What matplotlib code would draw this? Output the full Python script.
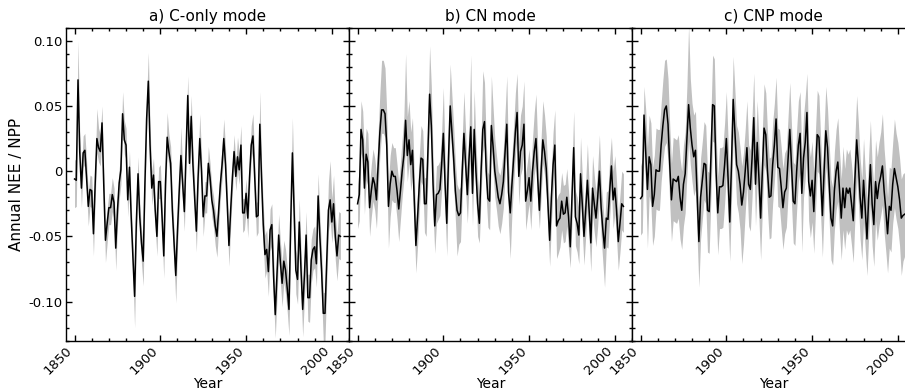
import numpy as np
import matplotlib
matplotlib.use('Agg')
import matplotlib.pyplot as plt
from matplotlib.ticker import MultipleLocator, FuncFormatter

# years of the simulation
years = np.arange(1850, 2006)

# annual NEE / NPP, ensemble mean (x1000)
c_only_mean = [
    -6, -7, 70, 15, -13, 14, 16, -5, -27, -14,
    -15, -48, -10, 25, 18, 15, 37, -10, -53, -40,
    -28, -28, -18, -24, -59, -30, -9, 1, 44, 24,
    20, -22, 3, -35, -65, -96, -40, -2, -35, -55,
    -69, -10, 40, 69, 20, -13, -3, -30, -50, -8,
    -8, -35, -65, -10, 26, 15, 6, -30, -55, -80,
    -45, -15, 12, -10, -31, 15, 58, 6, 42, 5,
    -20, -46, -5, 25, 0, -35, -19, -19, 6, -5,
    -22, -30, -42, -50, -30, -10, 5, 25, 5, -25,
    -57, -30, -5, 15, -4, 11, 1, 20, -32, -32,
    -17, -36, -5, 20, 27, -5, -35, -34, 36, -5,
    -41, -64, -60, -77, -45, -41, -80, -110, -80, -49,
    -70, -86, -69, -76, -90, -106, -40, 14, -30, -76,
    -83, -39, -75, -106, -80, -49, -97, -97, -68, -60,
    -58, -71, -19, -50, -76, -109, -109, -70, -30, -22,
    -39, -25, -50, -65, -49, -50]
# distance of the grey band above / below the mean (x1000)
c_only_up = [
    15, 15, 30, 15, 13, 13, 13, 13, 11, 11,
    11, 11, 13, 23, 15, 13, 13, 11, 11, 11,
    11, 11, 13, 11, 11, 11, 11, 13, 17, 15,
    13, 11, 13, 11, 11, 11, 11, 13, 11, 11,
    11, 13, 15, 22, 15, 13, 13, 11, 11, 11,
    13, 11, 11, 13, 19, 13, 13, 11, 11, 11,
    11, 13, 22, 11, 11, 15, 15, 15, 16, 13,
    11, 11, 11, 19, 13, 11, 11, 11, 13, 11,
    11, 11, 11, 11, 11, 13, 13, 15, 13, 11,
    11, 11, 11, 13, 11, 15, 13, 15, 11, 11,
    11, 11, 13, 15, 17, 13, 11, 11, 25, 13,
    15, 15, 15, 15, 16, 16, 16, 16, 16, 16,
    16, 16, 16, 16, 16, 16, 18, 27, 18, 16,
    16, 18, 16, 16, 16, 18, 18, 18, 16, 16,
    16, 16, 17, 16, 16, 16, 16, 18, 22, 30,
    18, 22, 16, 16, 18, 18]
c_only_down = [
    22, 20, 13, 13, 15, 11, 11, 11, 15, 13,
    13, 17, 13, 11, 11, 11, 11, 13, 17, 15,
    13, 13, 13, 13, 17, 13, 13, 11, 11, 11,
    11, 13, 11, 13, 15, 24, 15, 11, 13, 16,
    19, 13, 11, 11, 11, 13, 11, 13, 15, 13,
    13, 13, 17, 13, 11, 11, 11, 13, 16, 21,
    15, 13, 11, 13, 15, 11, 11, 11, 11, 11,
    13, 16, 13, 11, 11, 15, 13, 13, 11, 11,
    13, 13, 15, 16, 13, 11, 11, 11, 11, 13,
    16, 13, 11, 11, 11, 11, 11, 11, 15, 13,
    13, 15, 11, 11, 11, 11, 15, 13, 11, 13,
    16, 18, 16, 19, 16, 16, 18, 18, 18, 16,
    16, 18, 16, 18, 18, 20, 18, 16, 16, 18,
    19, 16, 18, 21, 18, 16, 18, 19, 18, 16,
    16, 18, 16, 16, 18, 21, 21, 18, 16, 16,
    16, 16, 18, 19, 18, 18]

cn_mean = [
    -25, -18, 32, 24, -13, 13, 7, -28, -15, -5,
    -10, -22, 5, 30, 47, 47, 44, 20, -27, -10,
    0, -4, -4, -15, -29, -15, 0, 12, 39, 12,
    24, 5, 16, -20, -57, -35, -10, 10, 9, -25,
    -25, 15, 59, 35, -10, -42, -18, -17, -14, 5,
    29, -10, -40, 10, 50, 30, 10, -15, -30, -34,
    -32, 0, 29, 5, -18, 10, 34, -17, 32, 0,
    -25, -40, 0, 32, 38, 0, -21, -23, 35, 19,
    0, -10, -20, -25, -18, -8, 15, 36, -16, -32,
    -10, 10, 30, 45, -4, 15, 20, 36, -23, -15,
    -5, -23, 0, 15, 25, -5, -30, 0, 24, 15,
    2, -25, -53, -20, 5, 20, -42, -38, -36, -23,
    -33, -32, -20, -35, -58, -20, 18, -35, -40, -49,
    -2, -25, -50, -30, -7, -30, -55, -13, -25, -36,
    -20, 0, -28, -45, -59, -36, -37, -15, 4, -22,
    -13, -30, -54, -40, -25, -27]
cn_up = [
    15, 20, 22, 22, 25, 20, 22, 18, 20, 22,
    20, 20, 25, 30, 38, 38, 35, 25, 18, 22,
    22, 22, 22, 20, 20, 22, 25, 30, 51, 30,
    30, 25, 25, 20, 18, 20, 22, 25, 22, 20,
    20, 25, 37, 30, 22, 20, 22, 22, 22, 25,
    35, 22, 20, 25, 32, 28, 25, 22, 20, 20,
    20, 25, 32, 25, 20, 25, 55, 22, 30, 22,
    20, 20, 25, 45, 30, 22, 20, 20, 38, 30,
    25, 22, 20, 22, 22, 25, 30, 37, 22, 20,
    22, 25, 30, 30, 25, 28, 30, 33, 20, 22,
    22, 22, 25, 30, 34, 25, 20, 25, 30, 28,
    25, 22, 20, 22, 25, 27, 20, 20, 20, 22,
    22, 22, 22, 20, 18, 22, 28, 20, 20, 20,
    28, 22, 20, 22, 28, 20, 20, 25, 22, 20,
    22, 28, 20, 20, 18, 20, 22, 25, 22, 22,
    25, 22, 20, 22, 25, 25]
cn_down = [
    19, 20, 18, 15, 20, 20, 18, 22, 20, 18,
    20, 22, 20, 18, 18, 18, 18, 20, 32, 25,
    22, 20, 20, 22, 25, 22, 20, 18, 18, 20,
    18, 20, 20, 22, 21, 22, 20, 18, 20, 22,
    25, 20, 18, 18, 22, 21, 22, 20, 20, 20,
    18, 22, 25, 20, 18, 18, 20, 22, 35, 22,
    22, 20, 18, 20, 22, 20, 18, 25, 18, 20,
    25, 15, 20, 18, 18, 20, 22, 22, 18, 20,
    20, 20, 22, 23, 22, 20, 18, 18, 25, 35,
    22, 20, 18, 18, 22, 18, 18, 18, 22, 20,
    20, 22, 20, 18, 18, 20, 14, 20, 18, 18,
    20, 22, 20, 20, 20, 18, 25, 25, 22, 22,
    22, 22, 22, 25, 16, 20, 18, 22, 22, 22,
    20, 22, 22, 20, 20, 22, 22, 20, 22, 22,
    22, 20, 22, 25, 30, 22, 22, 20, 18, 22,
    20, 22, 22, 22, 20, 20]

cnp_mean = [
    -21, -19, 43, 15, -14, 11, 5, -27, -18, 1,
    0, 0, 20, 35, 47, 50, 36, 5, -22, -6,
    -7, -8, -4, -20, -30, -10, -2, 25, 51, 33,
    20, 11, 16, -20, -54, -20, -7, 6, 5, -30,
    -31, 10, 51, 50, 0, -32, -12, -12, -11, 5,
    25, -5, -39, 5, 55, 30, 5, 0, -10, -26,
    -16, 0, 18, -10, -14, 10, 41, -10, 22, -5,
    -36, 0, 33, 28, 0, -20, -19, 5, 20, 40,
    3, 2, -12, -28, -16, -13, 10, 32, 5, -23,
    -25, 0, 20, 29, -17, 10, 22, 45, -8, -19,
    -7, -31, 0, 28, 26, -5, -34, 0, 31, 18,
    -10, -36, -42, -15, 0, 7, -15, -36, -13, -28,
    -13, -17, -13, -25, -38, -5, 24, 5, -20, -36,
    -7, -30, -52, -20, 5, -25, -41, -8, -21, -10,
    -4, 4, -15, -30, -48, -27, -30, -10, 2, -5,
    -12, -22, -36, -34, -33, -32]
cnp_up = [
    25, 28, 22, 32, 32, 32, 32, 30, 30, 32,
    32, 32, 32, 35, 38, 36, 35, 30, 28, 32,
    32, 32, 32, 30, 30, 30, 32, 40, 61, 38,
    32, 32, 30, 28, 26, 30, 30, 32, 30, 30,
    30, 32, 38, 36, 30, 28, 30, 30, 30, 32,
    36, 30, 28, 32, 33, 32, 30, 30, 28, 30,
    30, 32, 36, 30, 30, 32, 34, 30, 32, 30,
    28, 32, 34, 32, 30, 30, 30, 32, 32, 32,
    30, 30, 30, 30, 30, 30, 32, 36, 30, 30,
    30, 32, 34, 32, 30, 32, 35, 30, 30, 30,
    30, 30, 32, 34, 32, 30, 30, 32, 34, 30,
    30, 30, 30, 30, 32, 34, 30, 30, 32, 30,
    30, 30, 30, 30, 28, 32, 34, 32, 30, 30,
    32, 30, 30, 32, 34, 30, 30, 32, 32, 32,
    34, 40, 32, 30, 28, 30, 32, 32, 38, 34,
    34, 32, 30, 32, 32, 32]
cnp_down = [
    28, 28, 25, 30, 45, 30, 30, 30, 32, 30,
    30, 30, 28, 28, 28, 28, 28, 30, 32, 32,
    32, 32, 32, 32, 30, 32, 30, 28, 28, 28,
    28, 30, 30, 32, 35, 32, 30, 28, 30, 32,
    32, 30, 28, 28, 30, 32, 32, 32, 32, 30,
    28, 32, 30, 28, 28, 28, 30, 32, 35, 45,
    40, 32, 28, 32, 32, 30, 28, 32, 30, 32,
    32, 30, 28, 28, 30, 32, 32, 30, 28, 28,
    30, 30, 32, 32, 32, 30, 28, 28, 30, 32,
    32, 30, 28, 30, 45, 30, 28, 28, 30, 32,
    32, 32, 30, 28, 28, 30, 32, 30, 28, 30,
    30, 32, 30, 30, 30, 30, 32, 32, 32, 32,
    32, 32, 32, 32, 32, 30, 28, 30, 32, 32,
    32, 30, 28, 30, 30, 32, 32, 30, 32, 32,
    30, 30, 32, 32, 30, 32, 32, 30, 30, 32,
    32, 35, 44, 35, 32, 32]

titles = ['a) C-only mode', 'b) CN mode', 'c) CNP mode']
series = [(c_only_mean, c_only_up, c_only_down),
          (cn_mean, cn_up, cn_down),
          (cnp_mean, cnp_up, cnp_down)]


def tick_fmt(v, pos):
    if abs(v) < 1e-9:
        return '0'
    return '%.2f' % v


fig = plt.figure(figsize=(9.05, 3.9), dpi=100)
W, H = 905.0, 390.0
for i, (title, (m, up, dn)) in enumerate(zip(titles, series)):
    left = 66 + i * 283
    ax = fig.add_axes([left / W, (H - 340.7) / H, 283 / W, 313 / H])
    m = np.array(m) / 1000.0
    hi = m + np.array(up) / 1000.0
    lo = m - np.array(dn) / 1000.0
    ax.fill_between(years, lo, hi, color='#c0c0c0', lw=0)
    ax.plot(years, m, color='black', lw=1.1)
    ax.set_xlim(1845, 2010)
    ax.set_ylim(-0.13, 0.11)
    ax.xaxis.set_major_locator(MultipleLocator(50))
    ax.xaxis.set_minor_locator(MultipleLocator(10))
    ax.yaxis.set_major_locator(MultipleLocator(0.05))
    ax.yaxis.set_minor_locator(MultipleLocator(0.01))
    ax.tick_params(which='both', direction='in', top=True, right=True, width=1)
    ax.tick_params(which='major', length=4.5, labelsize=9.5, pad=2.5)
    ax.tick_params(which='minor', length=2.5)
    ax.yaxis.set_major_formatter(FuncFormatter(tick_fmt))
    for lab in ax.get_xticklabels():
        lab.set_rotation(45)
        lab.set_ha('right')
    for s in ax.spines.values():
        s.set_linewidth(1)
    ax.set_title(title, fontsize=11, pad=5)
    ax.set_xlabel('Year', fontsize=10, labelpad=0)
    if i == 0:
        ax.set_ylabel('Annual NEE / NPP', fontsize=11, labelpad=3)
    else:
        ax.tick_params(labelleft=False)

fig.savefig('out.png', dpi=100)
